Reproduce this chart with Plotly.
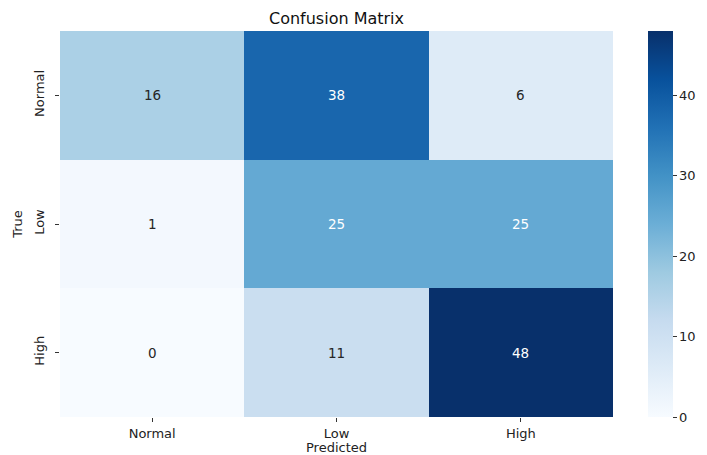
import plotly.graph_objects as go

labels = ["Normal", "Low", "High"]
true_labels = ["Normal", "Low", "High"]
matrix = [
    [16, 38, 6],
    [1, 25, 25],
    [0, 11, 48],
]
colorbar_ticks = [0, 10, 20, 30, 40]

blues = ['rgb(247,251,255)', 'rgb(222,235,247)', 'rgb(198,219,239)',
         'rgb(158,202,225)', 'rgb(107,174,214)', 'rgb(66,146,198)',
         'rgb(33,113,181)', 'rgb(8,81,156)', 'rgb(8,48,107)']
cs = [[i / (len(blues) - 1), c] for i, c in enumerate(blues)]

zmax = max(max(r) for r in matrix)

W, H = 699, 447
L, R, T, B = 52, 94, 23, 38
FONT = "DejaVu Sans"

fig = go.Figure(go.Heatmap(
    z=matrix, x=labels, y=true_labels,
    colorscale=cs, zmin=0, zmax=zmax, xgap=0, ygap=0,
    colorbar=dict(thickness=25, len=1, lenmode="fraction", x=1.063, xanchor="left",
                  y=0.5, yanchor="middle", outlinewidth=0, xpad=0, ypad=0,
                  tickvals=colorbar_ticks, ticks="outside", ticklen=4,
                  tickcolor="#333", tickfont=dict(family=FONT, size=13, color="#222")),
    hoverinfo="skip",
))

annotations = []
for i, row in enumerate(matrix):
    for j, v in enumerate(row):
        annotations.append(dict(
            x=labels[j], y=true_labels[i], text=str(v), showarrow=False,
            font=dict(family=FONT, size=13.5,
                      color="white" if v / zmax > 0.45 else "#262626")))

fig.update_layout(
    width=W, height=H,
    margin=dict(l=L, r=R, t=T, b=B, autoexpand=False),
    paper_bgcolor="white", plot_bgcolor="white",
    title=dict(text="Confusion Matrix", x=(L + (W - L - R) / 2) / W, xanchor="center",
               y=1 - 10.5 / H, yanchor="middle",
               font=dict(family=FONT, size=16, color="#111")),
    annotations=annotations,
    xaxis=dict(title=dict(text="Predicted", standoff=0,
                          font=dict(family=FONT, size=13, color="#222")),
               tickfont=dict(family=FONT, size=13, color="#222"),
               ticks="outside", ticklen=4, tickcolor="#333", showgrid=False,
               zeroline=False, showline=False),
    yaxis=dict(title=dict(text="True", standoff=6,
                          font=dict(family=FONT, size=13, color="#222")),
               autorange="reversed", tickangle=-90, ticklabelstandoff=6,
               tickfont=dict(family=FONT, size=13, color="#222"),
               ticks="outside", ticklen=4, tickcolor="#333", showgrid=False,
               zeroline=False, showline=False),
    font=dict(family=FONT),
)

fig.write_html("out.html")
